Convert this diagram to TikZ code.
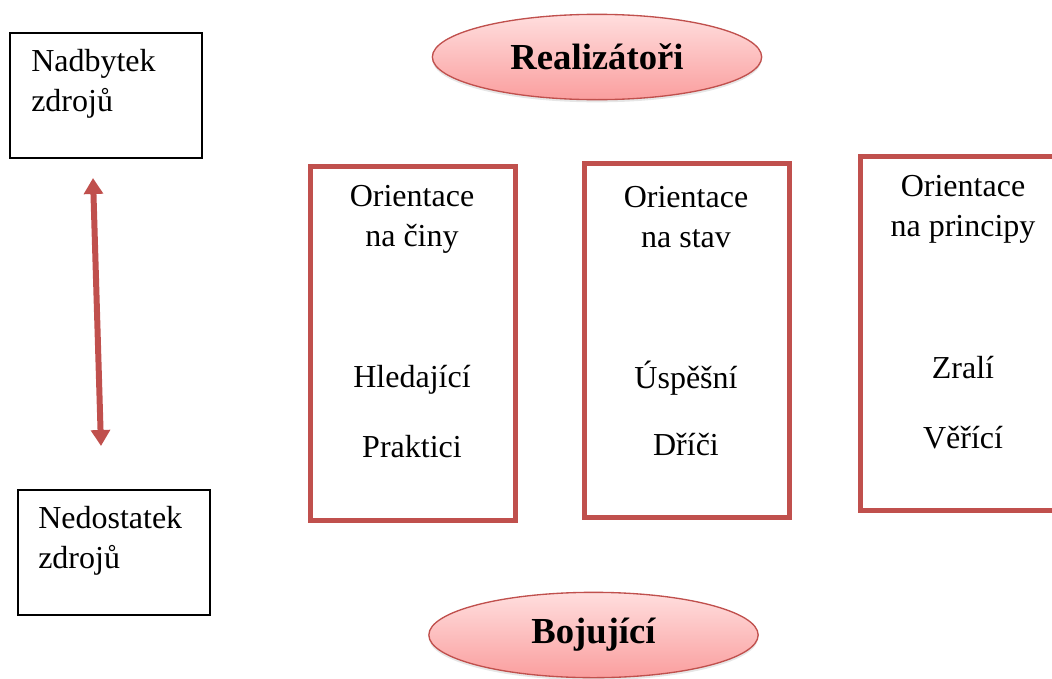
\documentclass[tikz,border=0pt]{standalone}
\usepackage{fontspec}
\setmainfont{Liberation Serif}
\usetikzlibrary{arrows.meta,shapes.geometric,shadows}
\definecolor{accent}{RGB}{192,80,77}
\definecolor{pinktop}{RGB}{255,222,222}
\definecolor{pinkbot}{RGB}{250,158,158}
\begin{document}
\begin{tikzpicture}[x=0.75pt,y=-0.75pt,>={Triangle[width=14pt,length=12pt]},
	txt/.style={inner sep=0pt,font=\fontsize{24}{30}\selectfont,align=center},
	side box/.style={draw=black,line width=0.8pt,minimum width=144pt,minimum height=93.75pt,inner sep=0pt},
	group box/.style={draw=accent,line width=3.75pt,minimum width=153.75pt,minimum height=265.5pt,inner sep=0pt},
	type node/.style={ellipse,draw=accent,line width=1pt,top color=pinktop,bottom color=pinkbot,
		minimum width=247pt,minimum height=64pt,inner sep=0pt,font=\fontsize{27.5}{32}\selectfont\bfseries,
		drop shadow={opacity=0.2,shadow xshift=0pt,shadow yshift=-2pt}}]

	\useasboundingbox (0,0) rectangle (1052,678);

	% resources
	\node[side box] (nadbytek) at (106,95.5) {};
	\node[side box] (nedostatek) at (114,552.5) {};
	\node[txt,align=left,anchor=west] (nadbytekT) at (31,84) {Nadbytek\\zdrojů};
	\node[txt,align=left,anchor=west] (nedostatekT) at (38,541) {Nedostatek\\zdrojů};

	\coordinate (top) at (93,178);
	\coordinate (bottom) at (101,446);
	\draw[<->,accent,line width=4.5pt] (top) -- (bottom);

	% types
	\node[type node] (realizatori) at (597,57) {Realizátoři};
	\node[type node] (bojujici) at (593.5,635) {Bojující};

	% orientation boxes
	\node[group box] (ciny) at (412.5,343) {};
	\node[group box] (stav) at (686.5,340) {};
	\node[group box] (principy) at (962.5,333) {};

	\node[txt] (cinyT) at (412,219) {Orientace\\na činy};
	\node[txt] (hledajici) at (412,380) {Hledající};
	\node[txt] (praktici) at (412,447) {Praktici};

	\node[txt] (stavT) at (686,217) {Orientace\\na stav};
	\node[txt] (uspesni) at (686,378) {Úspěšní};
	\node[txt] (drici) at (686,445) {Dříči};

	\node[txt] (principyT) at (963,209) {Orientace\\na principy};
	\node[txt] (zrali) at (963,368) {Zralí};
	\node[txt] (verici) at (963,438) {Věřící};

\end{tikzpicture}
\end{document}
